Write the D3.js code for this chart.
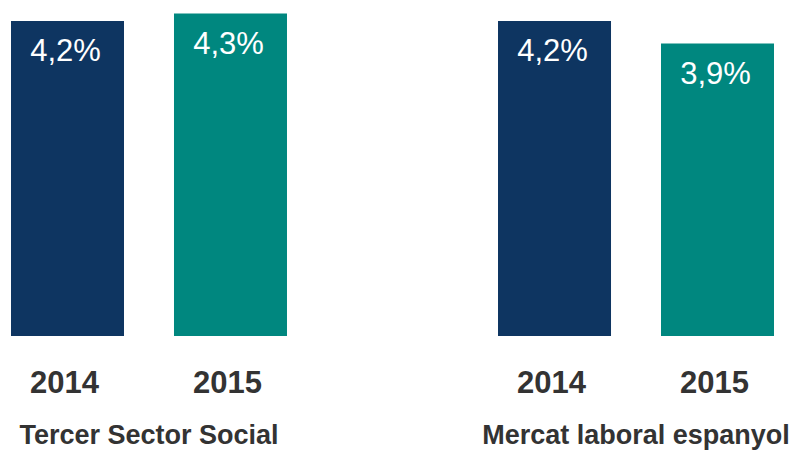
<!DOCTYPE html>
<html>
<head>
<meta charset="utf-8">
<script src="https://cdn.jsdelivr.net/npm/d3@7"></script>
<style>
  body { margin: 0; background: #fff; }
  svg { display: block; font-family: "Liberation Sans", Arial, sans-serif; }
</style>
</head>
<body>
<script>
// data
var groups = ["Tercer Sector Social", "Mercat laboral espanyol"];
var years = ["2014", "2015"];
var values2014 = [4.2, 4.2];
var values2015 = [4.3, 3.9];

var colors = { "2014": "#0e3561", "2015": "#00877f" };

var width = 799, height = 450;

var data = groups.map(function(g, i) {
  return { group: g, bars: [
    { year: "2014", value: values2014[i] },
    { year: "2015", value: values2015[i] }
  ]};
});

// outer scale for the two groups, inner scale for the years
var x0 = d3.scaleBand().domain(groups).range([11, 774]).paddingInner(0.4333);
var x1 = d3.scaleBand().domain(years).range([0, x0.bandwidth()]).paddingInner(0.3067);
var y = d3.scaleLinear().domain([0, 4.48]).range([336, 0]);

var fmt = function(v) { return d3.format(".1f")(v).replace(".", ",") + "%"; };

var svg = d3.select("body").append("svg")
    .attr("width", width)
    .attr("height", height);

var g = svg.selectAll("g.group")
  .data(data)
  .enter().append("g")
    .attr("class", "group")
    .attr("transform", function(d) { return "translate(" + x0(d.group) + ",0)"; });

// bars
g.selectAll("rect")
  .data(function(d) { return d.bars; })
  .enter().append("rect")
    .attr("x", function(d) { return x1(d.year); })
    .attr("y", function(d) { return y(d.value); })
    .attr("width", x1.bandwidth())
    .attr("height", function(d) { return y(0) - y(d.value); })
    .attr("fill", function(d) { return colors[d.year]; });

// value labels inside the bars
g.selectAll("text.value")
  .data(function(d) { return d.bars; })
  .enter().append("text")
    .attr("class", "value")
    .attr("x", function(d) { return x1(d.year) + x1.bandwidth() / 2 - 2; })
    .attr("y", function(d) { return y(d.value) + 40; })
    .attr("text-anchor", "middle")
    .attr("fill", "#fff")
    .style("font-size", "31px")
    .text(function(d) { return fmt(d.value); });

// year labels
g.selectAll("text.year")
  .data(function(d) { return d.bars; })
  .enter().append("text")
    .attr("class", "year")
    .attr("x", function(d) { return x1(d.year) + x1.bandwidth() / 2 - 3; })
    .attr("y", 393)
    .attr("text-anchor", "middle")
    .attr("fill", "#333")
    .style("font-size", "31px")
    .style("font-weight", "bold")
    .text(function(d) { return d.year; });

// group labels
g.append("text")
    .attr("x", x0.bandwidth() / 2)
    .attr("y", 444)
    .attr("text-anchor", "middle")
    .attr("fill", "#333")
    .style("font-size", "27px")
    .style("font-weight", "bold")
    .text(function(d) { return d.group; });
</script>
</body>
</html>
